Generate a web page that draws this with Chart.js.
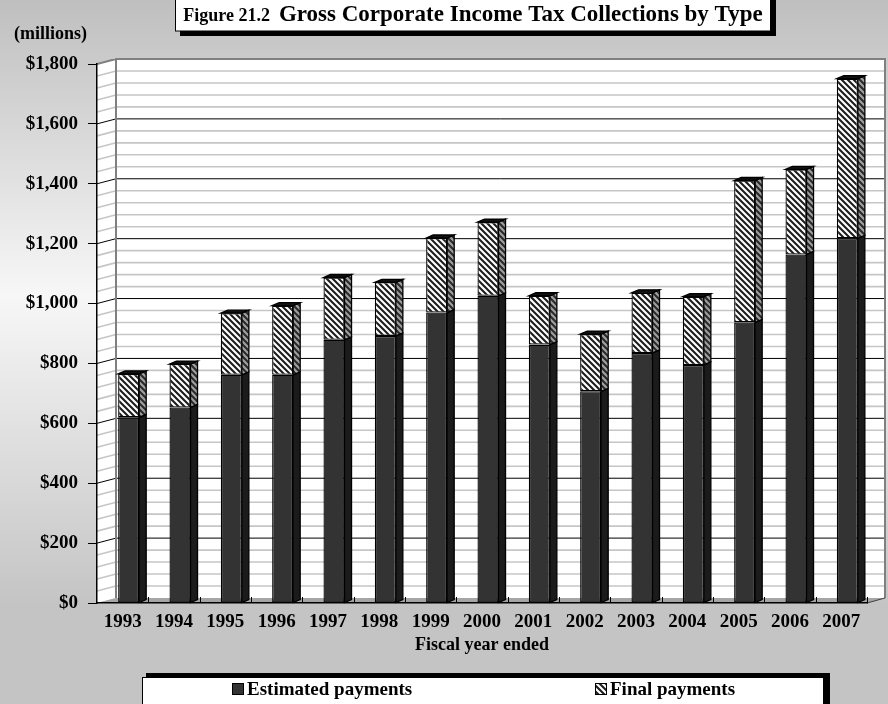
<!DOCTYPE html>
<html lang="en">
<head>
	<meta charset="UTF-8">
	<title>Gross Corporate Income Tax Collections by Type</title>
	<script src="https://cdn.jsdelivr.net/npm/chart.js"></script>
	<style>
		body { margin: 0; background: #c4c4c4; }
		canvas { display: block; }
	</style>
</head>
<body>
	<canvas id="taxChart" width="888" height="704"></canvas>

	<script type="text/javascript">
		// values, $ millions
		var years = ['1993', '1994', '1995', '1996', '1997', '1998', '1999', '2000', '2001', '2002', '2003', '2004', '2005', '2006', '2007'];
		var estimated = [620, 653, 762, 762, 879, 892, 970, 1026, 863, 707, 835, 795, 937, 1164, 1218];
		var finalPay = [145, 145, 206, 231, 208, 179, 249, 246, 163, 191, 201, 228, 474, 284, 533];
		var seriesNames = ['Estimated payments', 'Final payments'];
		var yMax = 1800;
		var yStep = 200;
		var yMinor = 40;

		var FONT = "'Liberation Serif', 'Times New Roman', serif";
		var DEPTH_X = 19, DEPTH_Y = 5;   // back wall offset
		var BAR_SHIFT = 6;               // bars sit a little behind the front plane
		var SIDE_X = 7, SIDE_Y = 3;      // bar side faces

		function makeHatch(bg, fg) {
			var c = document.createElement('canvas');
			c.width = 6; c.height = 6;
			var g = c.getContext('2d');
			g.fillStyle = bg;
			g.fillRect(0, 0, 6, 6);
			g.strokeStyle = fg;
			g.lineWidth = 2.1;
			g.beginPath();
			g.moveTo(-1, -1); g.lineTo(7, 7);
			g.moveTo(-1, 5); g.lineTo(1, 7);
			g.moveTo(5, -1); g.lineTo(7, 1);
			g.stroke();
			return g.createPattern(c, 'repeat');
		}

		var hatchFront = makeHatch('#ffffff', '#1e1e1e');
		var hatchSide = makeHatch('#a0a0a0', '#2a2a2a');

		var threeD = {
			id: 'threeD',
			beforeDraw: function (chart) {
				var ctx = chart.ctx;
				var a = chart.chartArea;
				var y = chart.scales.y;

				// page background
				var grad = ctx.createLinearGradient(0, 0, 0, chart.height);
				grad.addColorStop(0, '#bfbfbf');
				grad.addColorStop(0.42, '#f7f7f7');
				grad.addColorStop(0.86, '#c4c4c4');
				grad.addColorStop(1, '#c4c4c4');
				ctx.save();
				ctx.fillStyle = grad;
				ctx.fillRect(0, 0, chart.width, chart.height);

				var bl = a.left + DEPTH_X, br = a.right + DEPTH_X - 1;
				function yb(v) { return y.getPixelForValue(v) - DEPTH_Y; }

				// back wall
				ctx.fillStyle = '#ffffff';
				ctx.fillRect(bl, yb(yMax), br - bl, yb(0) - yb(yMax));
				// side wall
				ctx.beginPath();
				ctx.moveTo(a.left, y.getPixelForValue(yMax));
				ctx.lineTo(bl, yb(yMax));
				ctx.lineTo(bl, yb(0));
				ctx.lineTo(a.left, y.getPixelForValue(0));
				ctx.closePath();
				ctx.fill();

				// grid lines on both walls
				for (var v = yMinor; v < yMax; v += yMinor) {
					var major = v % yStep === 0;
					ctx.strokeStyle = major ? '#000000' : '#c6c6c6';
					ctx.lineWidth = major ? 1 : 1.6;
					ctx.beginPath();
					ctx.moveTo(bl, yb(v));
					ctx.lineTo(br, yb(v));
					ctx.moveTo(a.left, y.getPixelForValue(v));
					ctx.lineTo(bl, yb(v));
					ctx.stroke();
				}

				// floor
				ctx.fillStyle = '#a6a6a6';
				ctx.beginPath();
				ctx.moveTo(a.left, a.bottom);
				ctx.lineTo(bl, yb(0));
				ctx.lineTo(br, yb(0));
				ctx.lineTo(a.right, a.bottom);
				ctx.closePath();
				ctx.fill();

				// wall frame
				ctx.strokeStyle = '#808080';
				ctx.lineWidth = 2;
				ctx.beginPath();
				ctx.moveTo(bl, yb(0));
				ctx.lineTo(bl, yb(yMax));
				ctx.lineTo(br, yb(yMax));
				ctx.lineTo(br, yb(0));
				ctx.moveTo(a.left, y.getPixelForValue(yMax));
				ctx.lineTo(bl, yb(yMax));
				ctx.stroke();
				ctx.strokeStyle = '#404040';
				ctx.lineWidth = 1;
				ctx.beginPath();
				ctx.moveTo(a.right, a.bottom);
				ctx.lineTo(br, yb(0));
				ctx.stroke();

				// little floor ticks between categories
				var cw = (a.right - a.left) / years.length;
				ctx.strokeStyle = '#000000';
				ctx.lineWidth = 1;
				ctx.beginPath();
				for (var i = 1; i <= years.length; i++) {
					var xx = Math.round(a.left + i * cw) + 0.5;
					ctx.moveTo(xx, a.bottom);
					ctx.lineTo(xx, a.bottom - 6);
				}
				ctx.stroke();
				ctx.restore();
			},
			beforeDatasetsDraw: function (chart) {
				chart.ctx.save();
				chart.ctx.translate(BAR_SHIFT, 0);
			},
			afterDatasetsDraw: function (chart) {
				var ctx = chart.ctx;
				var metaE = chart.getDatasetMeta(0);
				var metaF = chart.getDatasetMeta(1);
				ctx.lineWidth = 1.3;
				ctx.strokeStyle = '#000000';
				function side(bar, fill) {
					var r = bar.x + bar.width / 2;
					var top = Math.min(bar.y, bar.base), bot = Math.max(bar.y, bar.base);
					ctx.beginPath();
					ctx.moveTo(r, top);
					ctx.lineTo(r + SIDE_X, top - SIDE_Y);
					ctx.lineTo(r + SIDE_X, bot - SIDE_Y);
					ctx.lineTo(r, bot);
					ctx.closePath();
					ctx.fillStyle = fill;
					ctx.fill();
					ctx.stroke();
				}
				for (var i = 0; i < years.length; i++) {
					side(metaE.data[i], '#1b1b1b');
					var f = metaF.data[i];
					side(f, hatchSide);
					var l = f.x - f.width / 2, r = f.x + f.width / 2;
					ctx.beginPath();
					ctx.moveTo(l, f.y);
					ctx.lineTo(l + SIDE_X, f.y - SIDE_Y);
					ctx.lineTo(r + SIDE_X, f.y - SIDE_Y);
					ctx.lineTo(r, f.y);
					ctx.closePath();
					ctx.fillStyle = '#111111';
					ctx.fill();
					ctx.stroke();
				}
				ctx.restore();
			},
			afterDraw: function (chart) {
				var ctx = chart.ctx;
				ctx.save();

				// title box with shadow
				ctx.fillStyle = '#000000';
				ctx.fillRect(180, 0, 596, 36);
				ctx.fillStyle = '#ffffff';
				ctx.fillRect(175, 0, 596, 31);
				ctx.strokeStyle = '#000000';
				ctx.lineWidth = 1;
				ctx.strokeRect(175.5, -1, 595, 32);

				ctx.fillStyle = '#000000';
				ctx.textBaseline = 'alphabetic';
				ctx.textAlign = 'left';
				var t1 = 'Figure 21.2  ', t2 = 'Gross Corporate Income Tax Collections by Type';
				ctx.font = 'bold 18px ' + FONT;
				var w1 = ctx.measureText(t1).width;
				ctx.font = 'bold 23px ' + FONT;
				var w2 = ctx.measureText(t2).width;
				var tx = 473 - (w1 + w2) / 2;
				ctx.font = 'bold 18px ' + FONT;
				ctx.fillText(t1, tx, 21);
				ctx.font = 'bold 23px ' + FONT;
				ctx.fillText(t2, tx + w1, 21);

				ctx.font = 'bold 18px ' + FONT;
				ctx.textBaseline = 'middle';
				ctx.fillText('(millions)', 14, 34);

				// legend box
				ctx.fillStyle = '#000000';
				ctx.fillRect(146, 673, 684, 33);
				ctx.fillStyle = '#ffffff';
				ctx.fillRect(142, 677, 682, 30);
				ctx.strokeRect(142.5, 677.5, 681, 30);

				var items = [
					{ x: 232, fill: '#333333', text: seriesNames[0] },
					{ x: 595, fill: hatchFront, text: seriesNames[1] }
				];
				ctx.font = 'bold 19px ' + FONT;
				items.forEach(function (it) {
					ctx.fillStyle = it.fill;
					ctx.fillRect(it.x, 683, 12, 12);
					ctx.strokeStyle = '#000000';
					ctx.lineWidth = 1;
					ctx.strokeRect(it.x + 0.5, 683.5, 11, 11);
					ctx.fillStyle = '#000000';
					ctx.fillText(it.text, it.x + 15, 690);
				});
				ctx.restore();
			}
		};

		var ctx = document.getElementById('taxChart').getContext('2d');
		var myChart = new Chart(ctx, {
			type: 'bar',
			data: {
				labels: years,
				datasets: [{
					label: seriesNames[0],
					data: estimated,
					backgroundColor: '#333333',
					borderColor: '#000000',
					borderWidth: 1.3,
					borderSkipped: false,
					barPercentage: 0.41,
					categoryPercentage: 1
				}, {
					label: seriesNames[1],
					data: finalPay,
					backgroundColor: hatchFront,
					borderColor: '#000000',
					borderWidth: 1.3,
					borderSkipped: false,
					barPercentage: 0.41,
					categoryPercentage: 1
				}]
			},
			options: {
				responsive: false,
				devicePixelRatio: 1,
				animation: false,
				layout: { padding: { left: 0, right: 21, top: 64, bottom: 48 } },
				plugins: {
					legend: { display: false },
					tooltip: { enabled: false }
				},
				scales: {
					x: {
						stacked: true,
						grid: { display: false, drawTicks: false },
						border: { display: true, color: '#000000', width: 1.5 },
						ticks: { color: '#000000', font: { family: FONT, size: 19, weight: 'bold' }, padding: 8, maxRotation: 0 },
						title: { display: true, text: 'Fiscal year ended', color: '#000000', font: { family: FONT, size: 18, weight: 'bold' }, padding: { top: 0, bottom: 0 } },
						afterFit: function (scale) { scale.height = 53; }
					},
					y: {
						stacked: true,
						min: 0,
						max: yMax,
						grid: { drawOnChartArea: false, color: '#000000', tickLength: 9 },
						border: { display: true, color: '#000000', width: 1.5 },
						ticks: {
							stepSize: yStep,
							color: '#000000',
							padding: 10,
							font: { family: FONT, size: 19, weight: 'bold' },
							callback: function (v) { return '$' + v.toLocaleString('en-US'); }
						},
						afterFit: function (scale) { scale.width = 97; }
					}
				}
			},
			plugins: [threeD]
		});
	</script>
</body>
</html>
